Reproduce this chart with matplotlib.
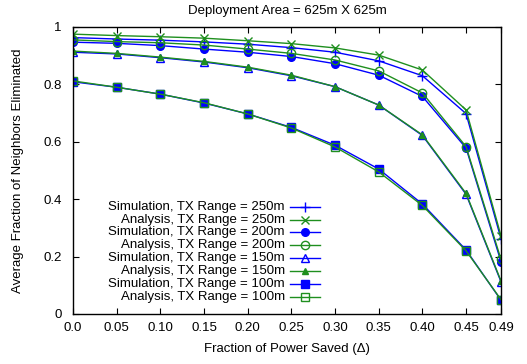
import matplotlib
matplotlib.use('Agg')
import matplotlib.pyplot as plt

plt.rcParams['font.family'] = ['Liberation Sans', 'DejaVu Sans']

# データ
delta = [0.0, 0.05, 0.10, 0.15, 0.20, 0.25, 0.30, 0.35, 0.40, 0.45, 0.49]
x_labels = ['0.0', '0.05', '0.10', '0.15', '0.20', '0.25', '0.30', '0.35', '0.40', '0.45', '0.49']

sim_250 = [0.963, 0.958, 0.954, 0.948, 0.940, 0.928, 0.912, 0.882, 0.830, 0.698, 0.262]
ana_250 = [0.975, 0.970, 0.966, 0.961, 0.952, 0.942, 0.927, 0.902, 0.850, 0.711, 0.272]
sim_200 = [0.947, 0.943, 0.935, 0.923, 0.912, 0.897, 0.872, 0.832, 0.758, 0.578, 0.182]
ana_200 = [0.955, 0.949, 0.945, 0.937, 0.923, 0.908, 0.885, 0.847, 0.770, 0.583, 0.190]
sim_150 = [0.912, 0.906, 0.893, 0.878, 0.858, 0.830, 0.792, 0.728, 0.622, 0.417, 0.112]
ana_150 = [0.916, 0.908, 0.895, 0.880, 0.860, 0.832, 0.792, 0.728, 0.624, 0.420, 0.115]
sim_100 = [0.809, 0.790, 0.766, 0.735, 0.697, 0.650, 0.588, 0.505, 0.383, 0.223, 0.048]
ana_100 = [0.812, 0.790, 0.766, 0.736, 0.697, 0.648, 0.582, 0.495, 0.378, 0.220, 0.050]

BLUE = '#0000ff'
GREEN = '#1f8f1f'

series = [
    ('Simulation, TX Range = 250m', sim_250, BLUE, dict(marker='+', ms=7)),
    ('Analysis, TX Range = 250m', ana_250, GREEN, dict(marker='x', ms=6)),
    ('Simulation, TX Range = 200m', sim_200, BLUE, dict(marker='o', ms=5.5)),
    ('Analysis, TX Range = 200m', ana_200, GREEN, dict(marker='o', ms=6, mfc='none')),
    ('Simulation, TX Range = 150m', sim_150, BLUE, dict(marker='^', ms=6, mfc='none')),
    ('Analysis, TX Range = 150m', ana_150, GREEN, dict(marker='^', ms=5)),
    ('Simulation, TX Range = 100m', sim_100, BLUE, dict(marker='s', ms=5.5)),
    ('Analysis, TX Range = 100m', ana_100, GREEN, dict(marker='s', ms=6, mfc='none')),
]

FS = 9.5

fig = plt.figure(figsize=(5.27, 3.64), dpi=100)
ax = fig.add_axes([0.1385, 0.1374, 0.8122, 0.7885])

for i, (label, vals, color, mk) in enumerate(series):
    ax.plot(delta, vals, color=color, lw=1, mew=1, **mk)
    # 手動凡例（テキスト右寄せ、線は右側）
    ly = 0.374 - i * 0.045
    ax.text(0.495, ly, label, transform=ax.transAxes, ha='right', va='center', fontsize=FS)
    ax.plot([0.507, 0.577], [ly, ly], color=color, lw=1, transform=ax.transAxes)
    ax.plot([0.542], [ly], color=color, lw=0, mew=1, transform=ax.transAxes, **mk)

ax.set_xlim(0, 0.49)
ax.set_ylim(0, 1)
ax.set_xticks(delta)
ax.set_xticklabels(x_labels)
ax.set_yticks([0, 0.2, 0.4, 0.6, 0.8, 1.0])
ax.set_yticklabels(['0', '0.2', '0.4', '0.6', '0.8', '1'])
ax.tick_params(direction='in', top=True, right=True, length=4, labelsize=FS)
ax.tick_params(axis='y', pad=8)
ax.tick_params(axis='x', pad=6)
for s in ax.spines.values():
    s.set_linewidth(1)

ax.set_title('Deployment Area = 625m X 625m', fontsize=FS, pad=9)
ax.set_xlabel('Fraction of Power Saved (\u0394)', fontsize=FS, labelpad=6)
ax.set_ylabel('Average Fraction of Neighbors Eliminated', fontsize=FS, labelpad=14)

fig.savefig('out.png', dpi=100, facecolor='white')
